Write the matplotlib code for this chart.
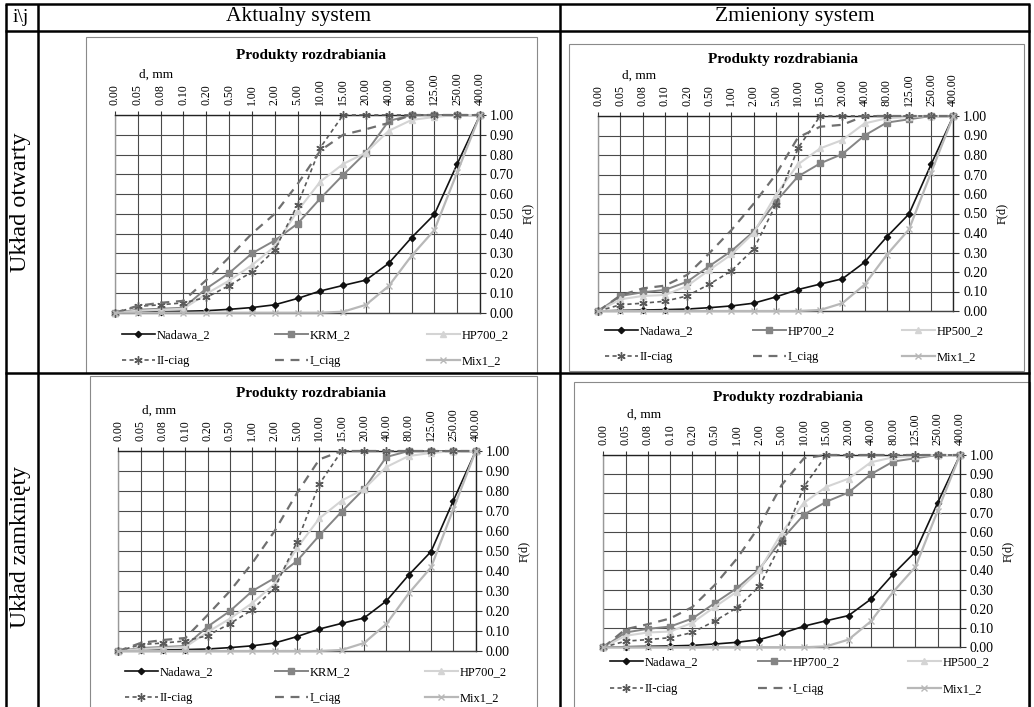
import numpy as np
import matplotlib
matplotlib.use("Agg")
import matplotlib.pyplot as plt
from matplotlib.lines import Line2D
from matplotlib.patches import Rectangle

plt.rcParams['font.family'] = ['Liberation Serif', 'DejaVu Serif']

W, H = 1034, 707

# ---------------- data ----------------
categories = ["0.00", "0.05", "0.08", "0.10", "0.20", "0.50", "1.00", "2.00", "5.00",
              "10.00", "15.00", "20.00", "40.00", "80.00", "125.00", "250.00", "400.00"]

nadawa_2 = [0, 0.003, 0.005, 0.007, 0.010, 0.017, 0.026, 0.040, 0.072, 0.110, 0.138,
            0.165, 0.250, 0.380, 0.497, 0.752, 1.00]
krm_2 = [0, 0.015, 0.020, 0.025, 0.122, 0.200, 0.300, 0.365, 0.450, 0.578, 0.697,
         0.810, 0.970, 1.00, 1.00, 1.00, 1.00]
hp700_2_akt = [0, 0.010, 0.015, 0.020, 0.095, 0.162, 0.240, 0.335, 0.515, 0.663, 0.752,
               0.810, 0.920, 0.975, 0.990, 1.00, 1.00]
hp700_2_zm = [0, 0.077, 0.096, 0.108, 0.150, 0.230, 0.308, 0.407, 0.560, 0.690, 0.757,
              0.805, 0.900, 0.966, 0.983, 1.00, 1.00]
hp500_2_zm = [0, 0.060, 0.077, 0.082, 0.128, 0.210, 0.290, 0.400, 0.595, 0.752, 0.834,
              0.877, 0.962, 0.988, 0.995, 1.00, 1.00]
ii_ciag = [0, 0.032, 0.040, 0.050, 0.077, 0.137, 0.206, 0.317, 0.545, 0.835, 1.00,
           1.00, 1.00, 1.00, 1.00, 1.00, 1.00]
i_ciag_akt_otw = [0, 0.035, 0.050, 0.060, 0.165, 0.280, 0.400, 0.500, 0.650, 0.820, 0.900,
                  0.928, 0.960, 1.00, 1.00, 1.00, 1.00]
i_ciag_akt_zam = [0, 0.040, 0.055, 0.065, 0.180, 0.300, 0.440, 0.600, 0.790, 0.958, 1.00,
                  1.00, 1.00, 1.00, 1.00, 1.00, 1.00]
i_ciag_zm_otw = [0, 0.080, 0.116, 0.130, 0.185, 0.296, 0.415, 0.550, 0.700, 0.890, 0.945,
                 0.955, 1.00, 1.00, 1.00, 1.00, 1.00]
i_ciag_zm_zam = [0, 0.094, 0.120, 0.150, 0.210, 0.324, 0.462, 0.630, 0.844, 0.983, 1.00,
                 1.00, 1.00, 1.00, 1.00, 1.00, 1.00]
mix1_2 = [0, 0, 0, 0, 0, 0, 0, 0, 0, 0, 0.005, 0.040, 0.135, 0.288, 0.418, 0.710, 1.00]

col_headers = ["Aktualny system", "Zmieniony system"]
row_headers = ["Układ otwarty", "Układ zamknięty"]
chart_title = "Produkty rozdrabiania"

# ---------------- styles ----------------
STYLE = {
    "Nadawa_2": dict(color="#111111", lw=1.2, ls="-", marker="D", ms=3.2, mfc="#111111", mec="#111111"),
    "KRM_2": dict(color="#858585", lw=1.4, ls="-", marker="s", ms=4.6, mfc="#858585", mec="#858585"),
    "HP700_2g": dict(color="#858585", lw=1.4, ls="-", marker="s", ms=4.6, mfc="#858585", mec="#858585"),
    "HP700_2l": dict(color="#d4d4d4", lw=1.5, ls="-", marker="^", ms=5, mfc="#d4d4d4", mec="#d4d4d4"),
    "II-ciag": dict(color="#5a5a5a", lw=1.2, ls=(0, (2.5, 2)), marker=(6, 2, 0), ms=6, mec="#5a5a5a"),
    "I_ciąg": dict(color="#707070", lw=1.6, ls=(0, (4, 3)), marker=None),
    "Mix1_2": dict(color="#b8b8b8", lw=1.6, ls="-", marker="x", ms=4.5, mec="#b8b8b8"),
}

def fx(x):
    return x / W

def fy(y):
    return 1 - y / H

def hline(x0, x1, y, lw=1.8, color="black"):
    fig.add_artist(Line2D([fx(x0), fx(x1)], [fy(y), fy(y)], transform=fig.transFigure,
                          color=color, lw=lw, solid_capstyle="butt"))

def vline(x, y0, y1, lw=1.8, color="black"):
    fig.add_artist(Line2D([fx(x), fx(x)], [fy(y0), fy(y1)], transform=fig.transFigure,
                          color=color, lw=lw, solid_capstyle="butt"))

fig = plt.figure(figsize=(W / 100, H / 100), dpi=100)

# ---------------- table ----------------
hline(5, 1030, 4)
hline(5, 1030, 31)
hline(5, 1030, 373)
vline(6, 4, 707)
vline(38, 4, 707)
vline(560, 4, 707)
vline(1029, 4, 707)

fig.text(fx(21), fy(17), "i\\j", ha="center", va="center", fontsize=14)
fig.text(fx(299), fy(17), col_headers[0], ha="center", va="center", fontsize=15.5)
fig.text(fx(795), fy(17), col_headers[1], ha="center", va="center", fontsize=15.5)
fig.text(fx(21), fy(202), row_headers[0], ha="center", va="center", rotation=90, fontsize=17.5)
fig.text(fx(21), fy(547), row_headers[1], ha="center", va="center", rotation=90, fontsize=17)

# chart panels: (frame box, axes box, title pos, series, legend columns x, legend rows y)
panels = [
    dict(frame=(86, 37, 537, 373), ax=(115, 115, 480, 312.7), title=(311, 56),
         series=[("Nadawa_2", nadawa_2, "Nadawa_2"), ("KRM_2", krm_2, "KRM_2"),
                 ("HP700_2", hp700_2_akt, "HP700_2l"), ("II-ciag", ii_ciag, "II-ciag"),
                 ("I_ciąg", i_ciag_akt_otw, "I_ciąg"), ("Mix1_2", mix1_2, "Mix1_2")],
         legx=(122, 275, 427), legy=(335, 361)),
    dict(frame=(569, 44, 1024, 371), ax=(598.3, 116, 953.3, 311), title=(783, 60),
         series=[("Nadawa_2", nadawa_2, "Nadawa_2"), ("HP700_2", hp700_2_zm, "HP700_2g"),
                 ("HP500_2", hp500_2_zm, "HP700_2l"), ("II-ciag", ii_ciag, "II-ciag"),
                 ("I_ciąg", i_ciag_zm_otw, "I_ciąg"), ("Mix1_2", mix1_2, "Mix1_2")],
         legx=(605, 753, 902), legy=(331, 357)),
    dict(frame=(90, 376, 537, 708), ax=(118.3, 451, 475.7, 651), title=(311, 394),
         series=[("Nadawa_2", nadawa_2, "Nadawa_2"), ("KRM_2", krm_2, "KRM_2"),
                 ("HP700_2", hp700_2_akt, "HP700_2l"), ("II-ciag", ii_ciag, "II-ciag"),
                 ("I_ciąg", i_ciag_akt_zam, "I_ciąg"), ("Mix1_2", mix1_2, "Mix1_2")],
         legx=(125, 275, 425), legy=(672, 698)),
    dict(frame=(574, 382, 1030, 708), ax=(603.3, 455, 960, 647.3), title=(788, 398),
         series=[("Nadawa_2", nadawa_2, "Nadawa_2"), ("HP700_2", hp700_2_zm, "HP700_2g"),
                 ("HP500_2", hp500_2_zm, "HP700_2l"), ("II-ciag", ii_ciag, "II-ciag"),
                 ("I_ciąg", i_ciag_zm_zam, "I_ciąg"), ("Mix1_2", mix1_2, "Mix1_2")],
         legx=(610, 758, 908), legy=(662, 689)),
]

x = np.arange(len(categories))
yt = np.round(np.arange(0, 1.001, 0.1), 2)

for p in panels:
    fx0, fy0, fx1, fy1 = p["frame"]
    fig.add_artist(Rectangle((fx(fx0), fy(fy1)), fx(fx1) - fx(fx0), (fy1 - fy0) / H,
                             transform=fig.transFigure, fill=False, ec="#8a8a8a", lw=0.8))
    l, t, r, b = p["ax"]
    ax = fig.add_axes([fx(l), fy(b), fx(r) - fx(l), (b - t) / H])
    ax.set_xlim(0, len(categories) - 1)
    ax.set_ylim(0, 1)
    ax.set_xticks(x)
    ax.set_xticklabels(categories, rotation=90, fontsize=8.5)
    ax.xaxis.tick_top()
    ax.set_yticks(yt)
    ax.set_yticklabels([f"{v:.2f}" for v in yt], fontsize=10)
    ax.yaxis.tick_right()
    ax.yaxis.set_label_position("right")
    ax.set_ylabel("F(d)", fontsize=9, labelpad=6)
    ax.tick_params(axis="x", direction="out", length=3, width=0.8, pad=4, color="#333333")
    ax.tick_params(axis="y", direction="out", length=4, width=0.8, pad=3, color="#333333")
    ax.grid(True, color="#4a4a4a", lw=0.8)
    ax.set_axisbelow(True)
    for side, col in (("top", "#222222"), ("right", "#222222"), ("left", "#999999"), ("bottom", "#444444")):
        ax.spines[side].set_color(col)
        ax.spines[side].set_linewidth(1.0)
    handles = {}
    for z, (name, vals, sk) in enumerate(p["series"]):
        st = STYLE[sk]
        h, = ax.plot(x, vals, clip_on=False, zorder=3 + z, label=name, **st)
        handles[name] = h
    fig.text(fx(p["title"][0]), fy(p["title"][1]), chart_title, ha="center", va="center",
             fontsize=11, fontweight="bold")
    fig.text(fx(l + 24), fy(t - 40), "d, mm", ha="left", va="center", fontsize=9.5)
    names = [s[0] for s in p["series"]]
    for i, name in enumerate(names):
        col = i % 3
        row = i // 3
        fig.legend(handles=[handles[name]], labels=[name], loc="center left",
                   bbox_to_anchor=(fx(p["legx"][col]), fy(p["legy"][row])),
                   frameon=False, borderpad=0, borderaxespad=0, handlelength=2.6,
                   handletextpad=0.2, fontsize=9, numpoints=1)

fig.savefig("out.png", dpi=100)
